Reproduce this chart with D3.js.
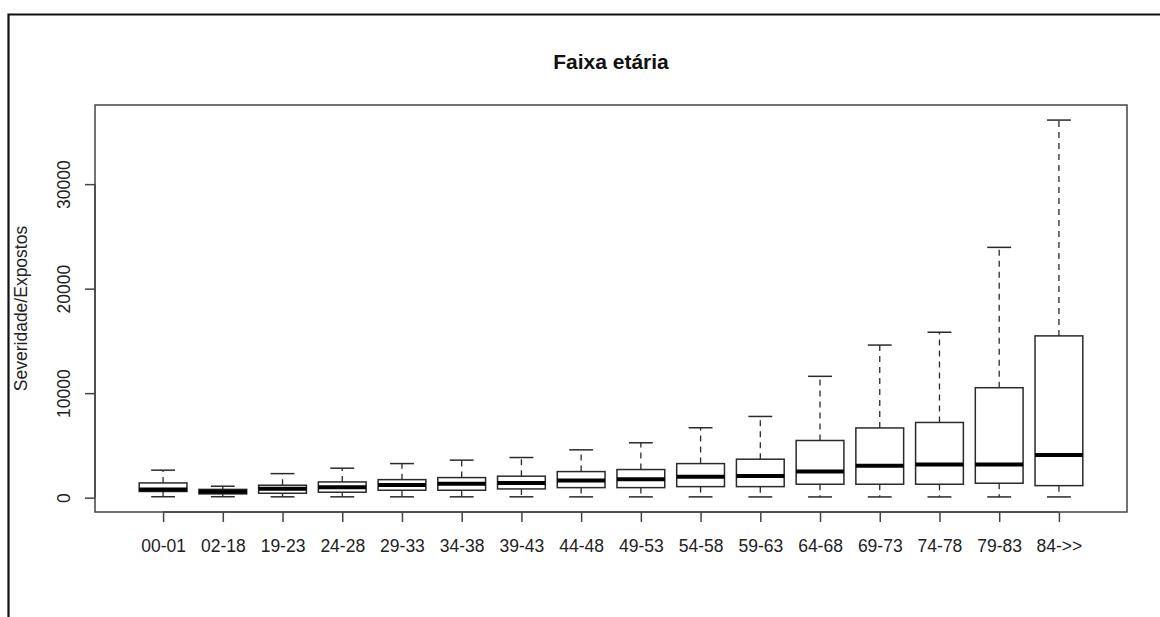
<!DOCTYPE html>
<html>
<head>
<meta charset="utf-8">
<script src="https://cdn.jsdelivr.net/npm/d3@7"></script>
<style>
  html, body { margin: 0; padding: 0; background: #fff; }
  svg { display: block; font-family: "Liberation Sans", Arial, sans-serif; }
</style>
</head>
<body>
<svg id="chart" width="1160" height="617"></svg>
<script>
// Age bands and their five-number summaries (severity per exposed)
const categories = ["00-01","02-18","19-23","24-28","29-33","34-38","39-43","44-48",
                    "49-53","54-58","59-63","64-68","69-73","74-78","79-83","84->>"];
const lowerWhisker = [90, 90, 80, 80, 80, 80, 80, 75, 75, 75, 70, 70, 70, 70, 70, 70];
const q1           = [590, 360, 420, 520, 710, 710, 835, 960, 960, 1055, 1055, 1285, 1285, 1285, 1380, 1150];
const median       = [780, 570, 860, 1000, 1220, 1340, 1410, 1630, 1765, 1990, 2080, 2495, 3050, 3165, 3165, 4070];
const q3           = [1410, 790, 1190, 1505, 1725, 1920, 2055, 2495, 2690, 3260, 3680, 5470, 6670, 7195, 10520, 15480];
const upperWhisker = [2630, 1095, 2300, 2820, 3260, 3590, 3840, 4575, 5250, 6690, 7770, 11610, 14600, 15830, 23950, 36130];
const yTicks = [0, 10000, 20000, 30000];

const title = "Faixa etária";
const yTitle = "Severidade/Expostos";

const svg = d3.select("#chart");
const plot = { left: 95, right: 1127, top: 105, bottom: 512 };

// Outer figure frame (only top and left edges fall inside the window)
svg.append("path")
  .attr("d", "M8.5,1000 L8.5,14.5 L1200,14.5")
  .attr("fill", "none").attr("stroke", "#111").attr("stroke-width", 2.2);

// Scales: R-style 4% padding around the data range
const yMin = d3.min(lowerWhisker), yMax = d3.max(upperWhisker);
const pad = (yMax - yMin) * 0.04;
const y = d3.scaleLinear().domain([yMin - pad, yMax + pad]).range([plot.bottom, plot.top]);
const n = categories.length;
const xPad = n * 0.04;
const x = d3.scaleLinear().domain([0.5 - xPad, n + 0.5 + xPad]).range([plot.left, plot.right]);

const data = categories.map((c, i) => ({
  cat: c, idx: i + 1,
  lo: lowerWhisker[i], q1: q1[i], med: median[i], q3: q3[i], hi: upperWhisker[i]
}));

const boxW = 0.4;   // half box width in category units
const capW = 0.2;   // half cap width

const g = svg.append("g");
const lineColor = "#2a2a2a";

const boxes = g.selectAll("g.box").data(data).enter().append("g").attr("class", "box");

// dashed whiskers
boxes.append("line")
  .attr("x1", d => x(d.idx)).attr("x2", d => x(d.idx))
  .attr("y1", d => y(d.q3)).attr("y2", d => y(d.hi))
  .attr("stroke", lineColor).attr("stroke-width", 1.3).attr("stroke-dasharray", "6,5");
boxes.append("line")
  .attr("x1", d => x(d.idx)).attr("x2", d => x(d.idx))
  .attr("y1", d => y(d.q1)).attr("y2", d => y(d.lo))
  .attr("stroke", lineColor).attr("stroke-width", 1.3).attr("stroke-dasharray", "6,5");

// whisker caps
boxes.append("line")
  .attr("x1", d => x(d.idx - capW)).attr("x2", d => x(d.idx + capW))
  .attr("y1", d => y(d.hi)).attr("y2", d => y(d.hi))
  .attr("stroke", lineColor).attr("stroke-width", 1.5);
boxes.append("line")
  .attr("x1", d => x(d.idx - capW)).attr("x2", d => x(d.idx + capW))
  .attr("y1", d => y(d.lo)).attr("y2", d => y(d.lo))
  .attr("stroke", lineColor).attr("stroke-width", 1.5);

// boxes
boxes.append("rect")
  .attr("x", d => x(d.idx - boxW))
  .attr("width", d => x(d.idx + boxW) - x(d.idx - boxW))
  .attr("y", d => y(d.q3))
  .attr("height", d => y(d.q1) - y(d.q3))
  .attr("fill", "#fff").attr("stroke", lineColor).attr("stroke-width", 1.5);

// medians
boxes.append("line")
  .attr("x1", d => x(d.idx - boxW)).attr("x2", d => x(d.idx + boxW))
  .attr("y1", d => y(d.med)).attr("y2", d => y(d.med))
  .attr("stroke", "#000").attr("stroke-width", 4);

// plot frame
svg.append("rect")
  .attr("x", plot.left).attr("y", plot.top)
  .attr("width", plot.right - plot.left).attr("height", plot.bottom - plot.top)
  .attr("fill", "none").attr("stroke", "#444").attr("stroke-width", 1.5);

// y axis
const yAxis = d3.axisLeft(y).tickValues(yTicks).tickSize(10).tickPadding(0).tickFormat(d3.format("d"));
const ya = svg.append("g").attr("transform", `translate(${plot.left},0)`).call(yAxis);
ya.select(".domain").attr("stroke", "#444").attr("stroke-width", 1.5)
  .attr("d", `M0,${y(yTicks[0])}V${y(yTicks[yTicks.length - 1])}`);
ya.selectAll(".tick line").attr("stroke", "#444").attr("stroke-width", 1.5);
ya.selectAll(".tick text")
  .attr("x", null).attr("dy", null)
  .attr("transform", "translate(-25,0) rotate(-90)")
  .attr("text-anchor", "middle")
  .attr("font-size", 17.5).attr("font-family", "Liberation Sans, Arial, sans-serif")
  .attr("fill", "#222");

// x axis
const xAxis = d3.axisBottom(x).tickValues(d3.range(1, n + 1)).tickSize(10).tickPadding(0)
  .tickFormat(i => categories[i - 1]);
const xa = svg.append("g").attr("transform", `translate(0,${plot.bottom})`).call(xAxis);
xa.select(".domain").attr("stroke", "#444").attr("stroke-width", 1.5)
  .attr("d", `M${x(1)},0H${x(n)}`);
xa.selectAll(".tick line").attr("stroke", "#444").attr("stroke-width", 1.5);
xa.selectAll(".tick text")
  .attr("y", 40).attr("dy", null)
  .attr("font-size", 17.5).attr("font-family", "Liberation Sans, Arial, sans-serif")
  .attr("fill", "#222");

// title
svg.append("text")
  .attr("x", (plot.left + plot.right) / 2).attr("y", 68.5)
  .attr("text-anchor", "middle")
  .attr("font-size", 21).attr("font-weight", "bold")
  .attr("fill", "#111")
  .text(title);

// y axis title
svg.append("text")
  .attr("transform", `translate(27,${(plot.top + plot.bottom) / 2}) rotate(-90)`)
  .attr("text-anchor", "middle")
  .attr("font-size", 17.5)
  .attr("fill", "#222")
  .text(yTitle);
</script>
</body>
</html>
